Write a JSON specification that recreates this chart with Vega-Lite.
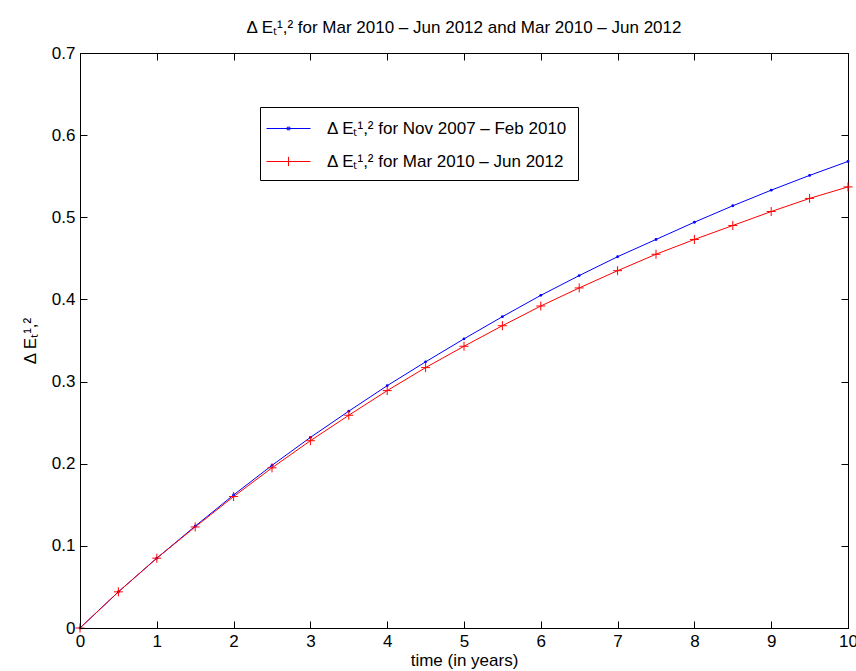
{
  "$schema": "https://vega.github.io/schema/vega-lite/v6.json",
  "autosize": "none",
  "width": 768,
  "height": 575,
  "padding": {"left": 80, "top": 53, "right": 8, "bottom": 43},
  "background": "white",
  "title": {
    "text": "Δ Eₜ¹,² for Mar 2010 – Jun 2012 and Mar 2010 – Jun 2012",
    "font": "Liberation Sans",
    "fontSize": 17,
    "fontWeight": "normal",
    "color": "black",
    "anchor": "middle",
    "offset": 7
  },
  "config": {
    "view": {"stroke": "black", "strokeWidth": 1},
    "axis": {
      "grid": false,
      "zindex": 1,
      "domainColor": "black",
      "labelFlush": false,
      "labelFont": "Liberation Sans",
      "labelFontSize": 17,
      "labelColor": "black",
      "titleFont": "Liberation Sans",
      "titleFontSize": 17,
      "titleFontWeight": "normal",
      "titleColor": "black"
    }
  },
  "data": {
    "values": [
      {"t": 0, "v": 0, "s": "Δ Eₜ¹,² for Nov 2007 – Feb 2010"},
      {"t": 0.5, "v": 0.044, "s": "Δ Eₜ¹,² for Nov 2007 – Feb 2010"},
      {"t": 1, "v": 0.085, "s": "Δ Eₜ¹,² for Nov 2007 – Feb 2010"},
      {"t": 1.5, "v": 0.124, "s": "Δ Eₜ¹,² for Nov 2007 – Feb 2010"},
      {"t": 2, "v": 0.162, "s": "Δ Eₜ¹,² for Nov 2007 – Feb 2010"},
      {"t": 2.5, "v": 0.198, "s": "Δ Eₜ¹,² for Nov 2007 – Feb 2010"},
      {"t": 3, "v": 0.232, "s": "Δ Eₜ¹,² for Nov 2007 – Feb 2010"},
      {"t": 3.5, "v": 0.264, "s": "Δ Eₜ¹,² for Nov 2007 – Feb 2010"},
      {"t": 4, "v": 0.295, "s": "Δ Eₜ¹,² for Nov 2007 – Feb 2010"},
      {"t": 4.5, "v": 0.324, "s": "Δ Eₜ¹,² for Nov 2007 – Feb 2010"},
      {"t": 5, "v": 0.352, "s": "Δ Eₜ¹,² for Nov 2007 – Feb 2010"},
      {"t": 5.5, "v": 0.379, "s": "Δ Eₜ¹,² for Nov 2007 – Feb 2010"},
      {"t": 6, "v": 0.405, "s": "Δ Eₜ¹,² for Nov 2007 – Feb 2010"},
      {"t": 6.5, "v": 0.429, "s": "Δ Eₜ¹,² for Nov 2007 – Feb 2010"},
      {"t": 7, "v": 0.452, "s": "Δ Eₜ¹,² for Nov 2007 – Feb 2010"},
      {"t": 7.5, "v": 0.473, "s": "Δ Eₜ¹,² for Nov 2007 – Feb 2010"},
      {"t": 8, "v": 0.494, "s": "Δ Eₜ¹,² for Nov 2007 – Feb 2010"},
      {"t": 8.5, "v": 0.514, "s": "Δ Eₜ¹,² for Nov 2007 – Feb 2010"},
      {"t": 9, "v": 0.533, "s": "Δ Eₜ¹,² for Nov 2007 – Feb 2010"},
      {"t": 9.5, "v": 0.551, "s": "Δ Eₜ¹,² for Nov 2007 – Feb 2010"},
      {"t": 10, "v": 0.568, "s": "Δ Eₜ¹,² for Nov 2007 – Feb 2010"},
      {"t": 0, "v": 0, "s": "Δ Eₜ¹,² for Mar 2010 – Jun 2012"},
      {"t": 0.5, "v": 0.044, "s": "Δ Eₜ¹,² for Mar 2010 – Jun 2012"},
      {"t": 1, "v": 0.085, "s": "Δ Eₜ¹,² for Mar 2010 – Jun 2012"},
      {"t": 1.5, "v": 0.123, "s": "Δ Eₜ¹,² for Mar 2010 – Jun 2012"},
      {"t": 2, "v": 0.160, "s": "Δ Eₜ¹,² for Mar 2010 – Jun 2012"},
      {"t": 2.5, "v": 0.195, "s": "Δ Eₜ¹,² for Mar 2010 – Jun 2012"},
      {"t": 3, "v": 0.228, "s": "Δ Eₜ¹,² for Mar 2010 – Jun 2012"},
      {"t": 3.5, "v": 0.259, "s": "Δ Eₜ¹,² for Mar 2010 – Jun 2012"},
      {"t": 4, "v": 0.289, "s": "Δ Eₜ¹,² for Mar 2010 – Jun 2012"},
      {"t": 4.5, "v": 0.317, "s": "Δ Eₜ¹,² for Mar 2010 – Jun 2012"},
      {"t": 5, "v": 0.343, "s": "Δ Eₜ¹,² for Mar 2010 – Jun 2012"},
      {"t": 5.5, "v": 0.368, "s": "Δ Eₜ¹,² for Mar 2010 – Jun 2012"},
      {"t": 6, "v": 0.392, "s": "Δ Eₜ¹,² for Mar 2010 – Jun 2012"},
      {"t": 6.5, "v": 0.414, "s": "Δ Eₜ¹,² for Mar 2010 – Jun 2012"},
      {"t": 7, "v": 0.435, "s": "Δ Eₜ¹,² for Mar 2010 – Jun 2012"},
      {"t": 7.5, "v": 0.455, "s": "Δ Eₜ¹,² for Mar 2010 – Jun 2012"},
      {"t": 8, "v": 0.473, "s": "Δ Eₜ¹,² for Mar 2010 – Jun 2012"},
      {"t": 8.5, "v": 0.490, "s": "Δ Eₜ¹,² for Mar 2010 – Jun 2012"},
      {"t": 9, "v": 0.507, "s": "Δ Eₜ¹,² for Mar 2010 – Jun 2012"},
      {"t": 9.5, "v": 0.523, "s": "Δ Eₜ¹,² for Mar 2010 – Jun 2012"},
      {"t": 10, "v": 0.537, "s": "Δ Eₜ¹,² for Mar 2010 – Jun 2012"}
    ]
  },
  "resolve": {"scale": {"x": "independent", "y": "independent"}, "axis": {"x": "independent", "y": "independent"}},
  "layer": [
    {
      "mark": {"type": "line", "strokeWidth": 1},
      "encoding": {
        "x": {
          "field": "t", "type": "quantitative",
          "scale": {"domain": [0, 10], "nice": false, "zero": false},
          "axis": {"orient": "bottom", "zindex": 1, "values": [0,1,2,3,4,5,6,7,8,9,10], "format": "d", "ticks": true, "tickSize": -7, "tickColor": "#000000", "tickWidth": 1, "labelPadding": 12, "title": "time (in years)", "titlePadding": 3}
        },
        "y": {
          "field": "v", "type": "quantitative",
          "scale": {"domain": [0, 0.7], "nice": false, "zero": false},
          "axis": {"orient": "left", "zindex": 1, "values": [0,0.1,0.2,0.3,0.4,0.5,0.6,0.7], "format": "~g", "ticks": true, "tickSize": -7, "tickColor": "#000000", "tickWidth": 1, "labelPadding": 12, "title": "Δ Eₜ¹,²", "titlePadding": 12}
        },
        "color": {
          "field": "s", "type": "nominal",
          "scale": {"domain": ["Δ Eₜ¹,² for Nov 2007 – Feb 2010", "Δ Eₜ¹,² for Mar 2010 – Jun 2012"], "range": ["#0000ff", "#ff0000"]},
          "legend": {
            "orient": "none",
            "legendX": 180,
            "legendY": 54,
            "title": null,
            "direction": "vertical",
            "strokeColor": "black",
            "fillColor": "white",
            "padding": 10,
            "symbolSize": 484,
            "symbolStrokeWidth": 1,
            "symbolType": "stroke",
            "labelFont": "Liberation Sans",
            "labelFontSize": 17,
            "labelColor": "black",
            "labelLimit": 400,
            "labelOffset": 34,
            "rowPadding": 13,
            "encode": {
              "symbols": {
                "update": {
                  "shape": {"signal": "indexof(datum.label, 'Nov') >= 0 ? 'M-1.36,0H2.64M0.52,-0.12H0.76V0.12H0.52Z' : 'M-1.36,0H2.64M0.64,-0.42V0.42'"},
                  "stroke": {"signal": "indexof(datum.label, 'Nov') >= 0 ? '#0000ff' : '#ff0000'"}
                }
              }
            }
          }
        }
      }
    },
    {
      "transform": [{"filter": "indexof(datum.s, 'Nov') >= 0"}],
      "mark": {"type": "point", "shape": "circle", "filled": true, "size": 8, "color": "#0000ff", "opacity": 1},
      "encoding": {
        "x": {"field": "t", "type": "quantitative", "scale": {"domain": [0, 10], "nice": false, "zero": false}, "axis": {"orient": "top", "zindex": 1, "values": [0,1,2,3,4,5,6,7,8,9,10], "labels": false, "title": null, "domain": false, "ticks": true, "tickSize": -7, "tickColor": "#000000", "tickWidth": 1}},
        "y": {"field": "v", "type": "quantitative", "scale": {"domain": [0, 0.7], "nice": false, "zero": false}, "axis": {"orient": "right", "zindex": 1, "values": [0,0.1,0.2,0.3,0.4,0.5,0.6,0.7], "labels": false, "title": null, "domain": false, "ticks": true, "tickSize": -7, "tickColor": "#000000", "tickWidth": 1}}
      }
    },
    {
      "transform": [{"filter": "indexof(datum.s, 'Mar') >= 0"}],
      "mark": {"type": "point", "shape": "M-1,0H1M0,-1V1", "filled": false, "size": 81, "color": "#ff0000", "strokeWidth": 1, "opacity": 1},
      "encoding": {
        "x": {"field": "t", "type": "quantitative", "scale": {"domain": [0, 10], "nice": false, "zero": false}, "axis": null},
        "y": {"field": "v", "type": "quantitative", "scale": {"domain": [0, 0.7], "nice": false, "zero": false}, "axis": null}
      }
    }
  ]
}
